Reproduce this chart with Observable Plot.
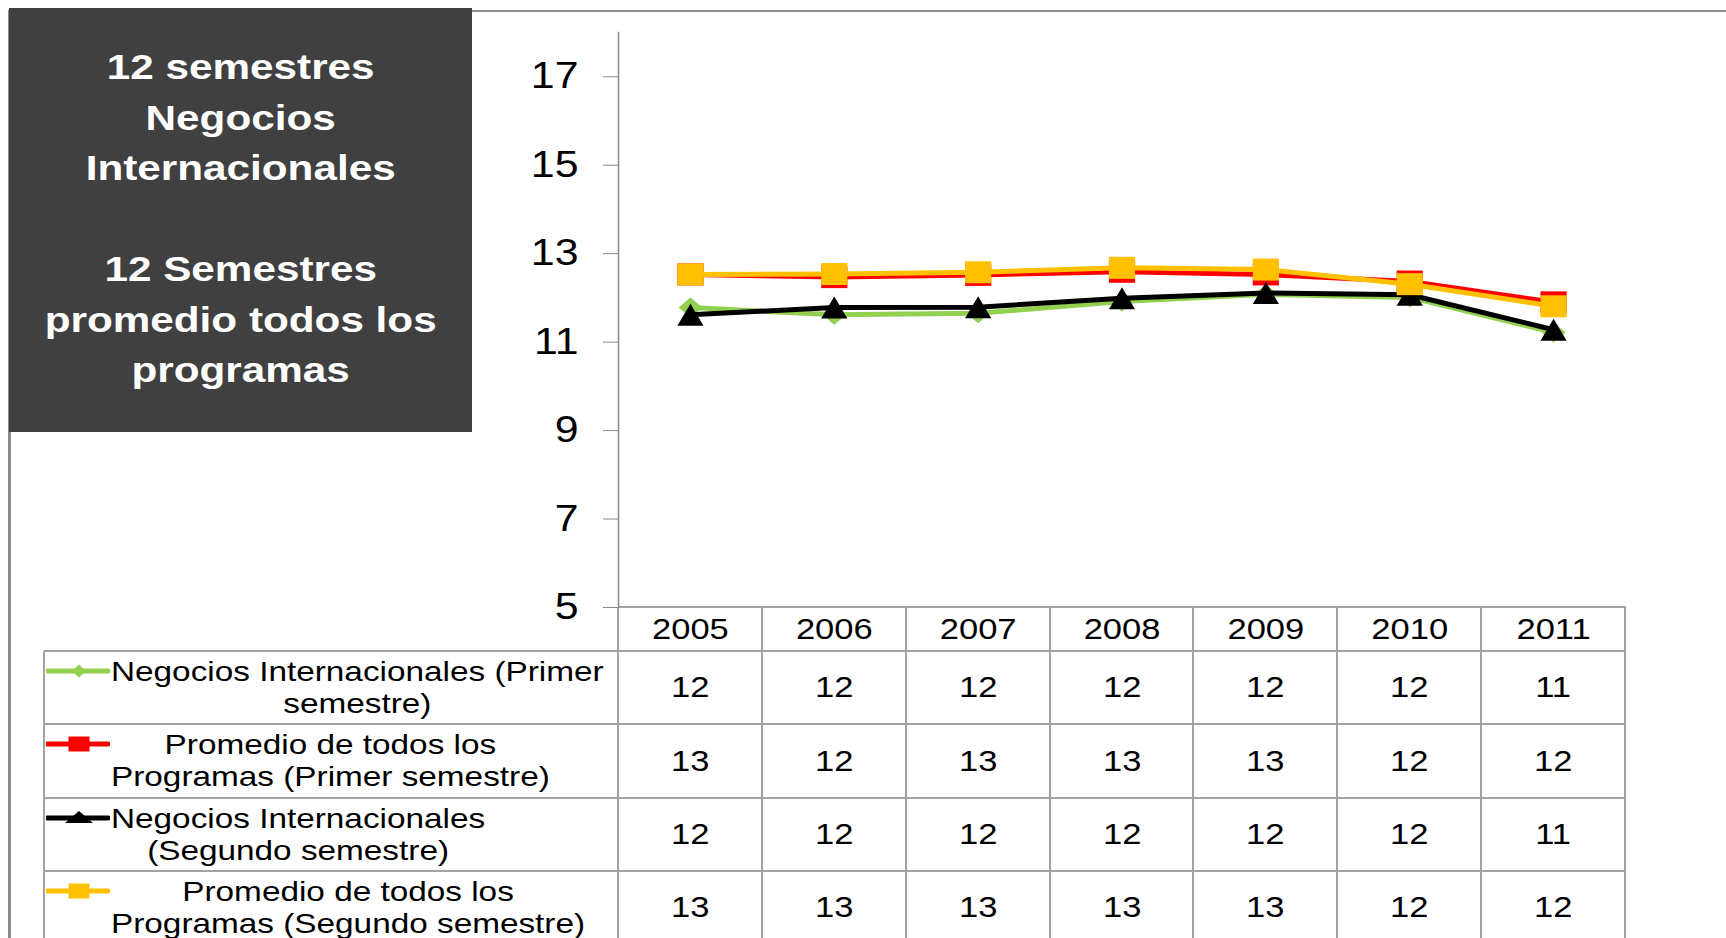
<!DOCTYPE html>
<html>
<head>
<meta charset="utf-8">
<script src="https://cdn.jsdelivr.net/npm/d3@7"></script>
<script src="https://cdn.jsdelivr.net/npm/@observablehq/plot@0.6"></script>
<style>
  html, body { margin: 0; padding: 0; background: #ffffff; overflow: hidden; }
  #page { position: relative; width: 1726px; height: 938px; overflow: hidden;
          font-family: "Liberation Sans", Arial, sans-serif; color: #000; }
  #frame { position: absolute; left: 8px; top: 10px; width: 3000px; height: 2000px;
           border-left: 3px solid #8c8c8c; border-top: 2.5px solid #8c8c8c; z-index: 1; }
  #box { position: absolute; left: 9px; top: 8px; width: 463px; height: 424px; background: #404040;
         display: flex; align-items: center; justify-content: center; z-index: 5; }
  #boxText { color: #ffffff; font-weight: bold; font-size: 35.5px; line-height: 50.6px; text-align: center;
             white-space: pre; transform: scaleX(1.19); padding-bottom: 2px; }
  .ln { position: absolute; background: #a3a3a3; z-index: 2; }
  .cell { position: absolute; z-index: 3; font-size: 29px; white-space: nowrap; }
  .lab { position: absolute; z-index: 3; font-size: 28px; line-height: 32px; white-space: pre;
         text-align: center; display: inline-block; transform-origin: left center; }
  .key { position: absolute; z-index: 3; }
</style>
</head>
<body>
<div id="page">
  <div id="frame"></div>
  <div id="box"><div id="boxText"></div></div>
</div>
<script>
// ---------- data ----------
const years = ["2005", "2006", "2007", "2008", "2009", "2010", "2011"];
const negociosPrimer  = [11.78, 11.62, 11.65, 11.92, 12.08, 12.01, 11.22];
const promedioPrimer  = [12.53, 12.47, 12.52, 12.59, 12.53, 12.37, 11.90];
const negociosSegundo = [11.62, 11.78, 11.79, 11.99, 12.11, 12.07, 11.28];
const promedioSegundo = [12.53, 12.54, 12.58, 12.68, 12.64, 12.31, 11.81];
const seriesLabels = [
  "Negocios Internacionales (Primer\nsemestre)",
  "Promedio de todos los\nProgramas (Primer semestre)",
  "Negocios Internacionales\n(Segundo semestre)",
  "Promedio de todos los\nProgramas (Segundo semestre)"
];
const seriesColors = ["#92D050", "#FF0000", "#000000", "#FFC000"];
const seriesSymbols = ["diamond", "square", "triangle", "square"];
const yTicks = [5, 7, 9, 11, 13, 15, 17];
const boxLines = ["12 semestres", "Negocios", "Internacionales", "", "12 Semestres", "promedio todos los", "programas"];

// ---------- build ----------
const SX = 1.19; // horizontal stretch of the original slide
const seriesValues = [negociosPrimer, promedioPrimer, negociosSegundo, promedioSegundo];
const series = seriesLabels.map((label, k) => ({
  label, color: seriesColors[k], symbol: seriesSymbols[k],
  rows: years.map((year, i) => ({year, value: seriesValues[k][i]}))
}));

function makeSymbol(kind) {
  return {
    draw(ctx, size) {
      const r = Math.sqrt(size / Math.PI), w = r * SX;
      if (kind === "square") {
        ctx.moveTo(-w, -r); ctx.lineTo(w, -r); ctx.lineTo(w, r); ctx.lineTo(-w, r); ctx.closePath();
      } else if (kind === "diamond") {
        ctx.moveTo(0, -r); ctx.lineTo(w, 0); ctx.lineTo(0, r); ctx.lineTo(-w, 0); ctx.closePath();
      } else {
        ctx.moveTo(0, -r); ctx.lineTo(w, r); ctx.lineTo(-w, r); ctx.closePath();
      }
    }
  };
}
const symbolR = {diamond: 10, square: 11, triangle: 11};

document.getElementById("boxText").textContent = boxLines.join("\n");

const plot = Plot.plot({
  width: 1726,
  height: 938,
  marginLeft: 618,
  marginRight: 101,
  marginTop: 32,
  marginBottom: 331,
  style: {background: "transparent", fontFamily: "'Liberation Sans', Arial, sans-serif", overflow: "visible"},
  x: {type: "band", domain: years, padding: 0, round: false},
  y: {domain: [5, 18]},
  marks: [
    Plot.frame({anchor: "left", stroke: "#8a8a8a", strokeWidth: 1.5}),
    Plot.axisY({ticks: yTicks, tickSize: 15, tickPadding: 25, fontSize: 36, stroke: "#8a8a8a", fill: "black",
                tickFormat: d => String(d), label: null}),
    Plot.axisX({tickSize: 0, tickPadding: 11, fontSize: 29, fill: "black", label: null}),
    ...series.flatMap(s => [
      Plot.line(s.rows, {x: "year", y: "value", stroke: s.color, strokeWidth: 5,
                         strokeLinejoin: "round", strokeLinecap: "round"}),
      Plot.dot(s.rows, {x: "year", y: "value", symbol: makeSymbol(s.symbol), r: symbolR[s.symbol],
                        fill: s.color, stroke: "none"})
    ])
  ]
});

plot.style.position = "absolute";
plot.style.left = "0px";
plot.style.top = "0px";
plot.style.zIndex = "4";
plot.style.background = "transparent";
plot.style.maxWidth = "none";
// stretch tick labels horizontally like the original slide
plot.querySelectorAll('g[aria-label$="tick label"] text').forEach(t => {
  const tr = t.getAttribute("transform") || "";
  t.setAttribute("transform", tr + ` scale(${SX},1)`);
});

const page = document.getElementById("page");
page.appendChild(plot);

// ---------- data table (legend + values), aligned to the x scale ----------
const xs = plot.scale("x");
const ys = plot.scale("y");
const bw = xs.bandwidth;
const colStart = y => xs.apply(y);
const tableLeft = 44;
const gridLeft = colStart(years[0]);
const gridRight = colStart(years[years.length - 1]) + bw;
const headerTop = ys.apply(5);
const headerBottom = headerTop + 44;
const rowH = 73.4;
const fmt = d3.format(".0f");

function line(x, y, w, h) {
  const d = document.createElement("div");
  d.className = "ln";
  Object.assign(d.style, {left: x + "px", top: y + "px", width: w + "px", height: h + "px"});
  page.appendChild(d);
}
const LW = 2;
line(gridLeft, headerTop - 1, gridRight - gridLeft + 1, LW);
for (let r = 0; r <= series.length; r++) {
  line(tableLeft, headerBottom + r * rowH - 1, gridRight - tableLeft + 1, LW);
}
years.forEach((y, i) => line(colStart(y) - 1, headerTop, LW, 938 - headerTop));
line(gridRight - 1, headerTop, LW, 938 - headerTop);
line(tableLeft - 1, headerBottom, LW, 938 - headerBottom);

series.forEach((s, k) => {
  const top = headerBottom + k * rowH;
  // values
  s.rows.forEach(d => {
    const c = document.createElement("div");
    c.className = "cell";
    c.textContent = fmt(d.value);
    page.appendChild(c);
    const w = c.offsetWidth, h = c.offsetHeight;
    c.style.left = (colStart(d.year) + bw / 2 - w / 2) + "px";
    c.style.top = (top + rowH / 2 - h / 2) + "px";
    c.style.transform = `scaleX(${SX})`;
  });
  // label
  const lab = document.createElement("div");
  lab.className = "lab";
  lab.textContent = s.label;
  lab.style.left = "111px";
  lab.style.top = (top + (rowH - 64) / 2) + "px";
  lab.style.transform = `scaleX(${SX})`;
  page.appendChild(lab);
  // legend key
  const ky = top + 20;
  const svgNS = "http://www.w3.org/2000/svg";
  const key = document.createElementNS(svgNS, "svg");
  key.setAttribute("class", "key");
  key.setAttribute("width", 64);
  key.setAttribute("height", 30);
  key.style.left = "46px";
  key.style.top = (ky - 15) + "px";
  const l = document.createElementNS(svgNS, "line");
  l.setAttribute("x1", 1); l.setAttribute("x2", 62); l.setAttribute("y1", 15); l.setAttribute("y2", 15);
  l.setAttribute("stroke", s.color); l.setAttribute("stroke-width", 5); l.setAttribute("stroke-linecap", "round");
  key.appendChild(l);
  const m = document.createElementNS(svgNS, "path");
  const cx = 33, cy = 15;
  let p;
  if (s.symbol === "diamond") p = `M${cx},${cy-6.5}L${cx+7},${cy}L${cx},${cy+6.5}L${cx-7},${cy}Z`;
  else if (s.symbol === "triangle") p = `M${cx},${cy-7}L${cx+14},${cy+5}L${cx-14},${cy+5}Z`;
  else p = `M${cx-10.5},${cy-7.5}H${cx+10.5}V${cy+7.5}H${cx-10.5}Z`;
  m.setAttribute("d", p); m.setAttribute("fill", s.color);
  key.appendChild(m);
  page.appendChild(key);
});
</script>
</body>
</html>
